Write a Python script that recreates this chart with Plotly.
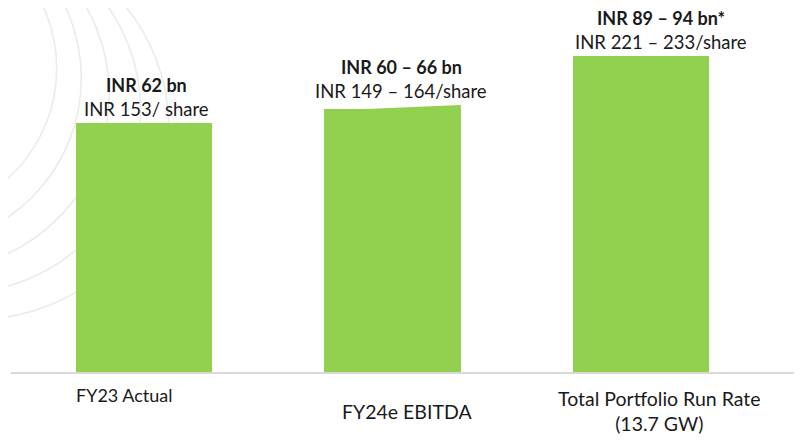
import plotly.graph_objects as go

# ---- data ----
categories = ["FY23 Actual", "FY24e EBITDA", "Total Portfolio Run Rate<br>(13.7 GW)"]
bar_top_left = [62.0, 65.3, 78.7]    # bar height at left edge (chart units)
bar_top_right = [62.0, 66.4, 78.7]   # bar height at right edge (middle bar is slanted)
headline = ["INR 62 bn", "INR 60 – 66 bn", "INR 89 – 94 bn*"]
per_share = ["INR 153/ share", "INR 149 – 164/share", "INR 221 – 233/share"]

# ---- styling ----
OFF = 8  # page body margin
W, H = 802 - OFF, 443 - OFF
ML = 11 - OFF
BASE = 372 - OFF
MB = H - BASE
PW, PH = W - ML, BASE
BAR_COLOR = "#92D050"
TEXT_COLOR = "#1a1a1a"
FONT = "Lato"
bar_width = 0.55
label_xshift = [3, 9, 20]
cat_xshift = [-19, 15, 19]
cat_size = [18, 19.5, 19.5]
cat_ypix = [395, 411, 410.5]
YMAX = PH / (249.3 / 62.0)
x_pos = [0, 1, 2]
XMIN, XMAX = -0.535, 2.648

fig = go.Figure()

fig.add_trace(go.Bar(
    x=x_pos, y=bar_top_left, width=bar_width,
    marker=dict(color=BAR_COLOR, line=dict(width=0)),
    hoverinfo="skip", showlegend=False,
))

# slanted top wedges where right edge is taller
for xi, yl, yr in zip(x_pos, bar_top_left, bar_top_right):
    if yr > yl:
        xl, xr = xi - bar_width / 2, xi + bar_width / 2
        fig.add_trace(go.Scatter(
            x=[xl, xr, xr, xl, xl], y=[yl - 0.3, yr, yl - 0.3, yl - 0.3, yl - 0.3],
            fill="toself", fillcolor=BAR_COLOR, mode="lines",
            line=dict(width=0, color=BAR_COLOR),
            hoverinfo="skip", showlegend=False,
        ))

annotations = []
for xi, yl, yr, h, p, dx in zip(x_pos, bar_top_left, bar_top_right, headline, per_share, label_xshift):
    top = max(yl, yr)
    annotations.append(dict(
        x=xi, y=top, xref="x", yref="y", text=p, showarrow=False,
        xshift=dx, yshift=14, yanchor="middle",
        font=dict(family=FONT, size=18.5, color=TEXT_COLOR),
    ))
    annotations.append(dict(
        x=xi, y=top, xref="x", yref="y", text="<b>" + h + "</b>", showarrow=False,
        xshift=dx, yshift=38, yanchor="middle",
        font=dict(family=FONT, size=18, color=TEXT_COLOR),
    ))

for xi, c, dx, py, fs in zip(x_pos, categories, cat_xshift, cat_ypix, cat_size):
    annotations.append(dict(
        x=xi, y=0, xref="x", yref="paper", text=c, showarrow=False,
        xshift=dx, yshift=-(py - 372), yanchor="middle",
        font=dict(family=FONT, size=fs, color=TEXT_COLOR),
    ))

# faint decorative arcs (page-pixel centre x, centre y, radius)
arcs = [(-91.6, 68.4, 148.3), (-87.0, 78.2, 168.3), (-67.0, 94.0, 176.2),
        (-41.0, 110.9, 181.8), (-22.6, 127.8, 191.5)]
shapes = []
for cx, cy, r in arcs:
    cx -= OFF
    cy -= OFF
    shapes.append(dict(
        type="circle", xref="paper", yref="paper", layer="below",
        x0=(cx - r - ML) / PW, x1=(cx + r - ML) / PW,
        y0=(PH - (cy + r)) / PH, y1=(PH - (cy - r)) / PH,
        line=dict(color="#ebebeb", width=1.6), fillcolor="rgba(0,0,0,0)",
    ))

fig.update_layout(
    width=W, height=H,
    margin=dict(l=ML, r=0, t=0, b=MB),
    paper_bgcolor="white", plot_bgcolor="rgba(0,0,0,0)",
    showlegend=False,
    annotations=annotations,
    shapes=shapes,
    xaxis=dict(range=[XMIN, XMAX], showgrid=False, zeroline=False,
               showticklabels=False, ticks="", showline=True,
               linecolor="#d9d9d9", linewidth=1.5, fixedrange=True),
    yaxis=dict(range=[0, YMAX], showgrid=False, zeroline=False,
               showticklabels=False, ticks="", showline=False, fixedrange=True),
    bargap=0,
)

fig.write_html("out.html")
